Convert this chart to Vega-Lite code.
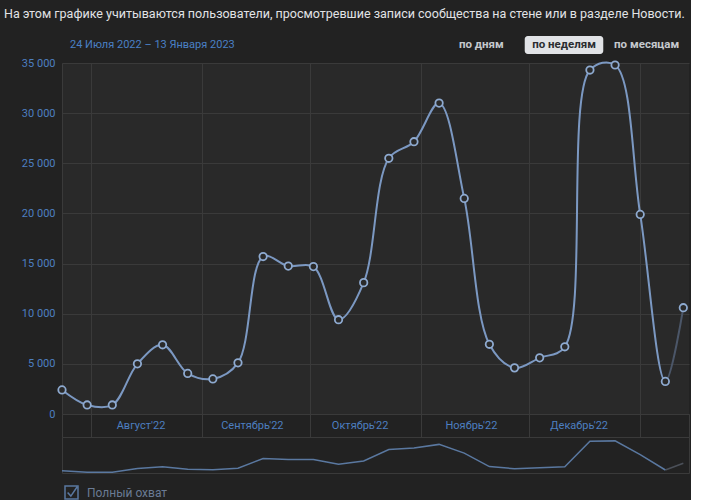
{
  "$schema": "https://vega.github.io/schema/vega-lite/v6.json",
  "background": "#222222",
  "padding": {"left": 4, "top": 7, "right": 0, "bottom": 0},
  "bounds": "flush",
  "title": {
    "text": "На этом графике учитываются пользователи, просмотревшие записи сообщества на стене или в разделе Новости.",
    "anchor": "start",
    "fontSize": 12.5,
    "fontWeight": "normal",
    "color": "#e1e3e6",
    "font": "Roboto",
    "baseline": "top",
    "offset": 16
  },
  "config": {
    "font": "Roboto",
    "view": {"stroke": null}
  },
  "datasets": {
    "weeks": [
      {"week": "2022-07-24T00:00:00", "reach": 2400},
      {"week": "2022-07-31T00:00:00", "reach": 900},
      {"week": "2022-08-07T00:00:00", "reach": 900},
      {"week": "2022-08-14T00:00:00", "reach": 5000},
      {"week": "2022-08-21T00:00:00", "reach": 6900},
      {"week": "2022-08-28T00:00:00", "reach": 4050},
      {"week": "2022-09-04T00:00:00", "reach": 3500},
      {"week": "2022-09-11T00:00:00", "reach": 5100},
      {"week": "2022-09-18T00:00:00", "reach": 15700},
      {"week": "2022-09-25T00:00:00", "reach": 14750},
      {"week": "2022-10-02T00:00:00", "reach": 14700},
      {"week": "2022-10-09T00:00:00", "reach": 9400},
      {"week": "2022-10-16T00:00:00", "reach": 13100},
      {"week": "2022-10-23T00:00:00", "reach": 25500},
      {"week": "2022-10-30T00:00:00", "reach": 27150},
      {"week": "2022-11-06T00:00:00", "reach": 31000},
      {"week": "2022-11-13T00:00:00", "reach": 21500},
      {"week": "2022-11-20T00:00:00", "reach": 6950},
      {"week": "2022-11-27T00:00:00", "reach": 4600},
      {"week": "2022-12-04T00:00:00", "reach": 5600},
      {"week": "2022-12-11T00:00:00", "reach": 6700},
      {"week": "2022-12-18T00:00:00", "reach": 34300},
      {"week": "2022-12-25T00:00:00", "reach": 34800},
      {"week": "2023-01-01T00:00:00", "reach": 19900},
      {"week": "2023-01-08T00:00:00", "reach": 3250},
      {"week": "2023-01-13T00:00:00", "reach": 10600}
    ],
    "months": [
      {"mid": "2022-08-15T00:00:00", "label": "Август'22"},
      {"mid": "2022-09-15T00:00:00", "label": "Сентябрь'22"},
      {"mid": "2022-10-15T00:00:00", "label": "Октябрь'22"},
      {"mid": "2022-11-15T00:00:00", "label": "Ноябрь'22"},
      {"mid": "2022-12-15T00:00:00", "label": "Декабрь'22"}
    ],
    "buttons": [
      {"label": "по дням", "selected": false},
      {"label": "по неделям", "selected": true},
      {"label": "по месяцам", "selected": false}
    ]
  },
  "resolve": {"scale": {"color": "independent"}, "legend": {"color": "independent"}},
  "spacing": 0,
  "vconcat": [
    {
      "width": 627,
      "height": 27,
      "data": {"name": "buttons"},
      "encoding": {
        "x": {"field": "label", "type": "nominal", "sort": null, "scale": {"type": "band", "paddingInner": 0.05, "paddingOuter": 0.025, "range": [378, 626]}, "axis": null},
        "y": {"datum": "b", "type": "nominal", "scale": {"type": "band", "paddingInner": 0, "paddingOuter": 0.25, "align": 0}, "axis": null}
      },
      "layer": [
        {
          "mark": {"type": "rect", "cornerRadius": 3},
          "encoding": {
            "color": {"condition": {"test": "datum.selected", "value": "#e1e3e6"}, "value": "transparent"}
          }
        },
        {
          "mark": {"type": "text", "fontSize": 11.5, "fontWeight": "bold", "baseline": "middle"},
          "encoding": {
            "text": {"field": "label"},
            "color": {"condition": {"test": "datum.selected", "value": "#2b2d30"}, "value": "#c5c9ce"}
          }
        }
      ]
    },
    {
      "width": 627,
      "height": 351,
      "title": {
        "text": "24 Июля 2022 – 13 Января 2023",
        "anchor": "start",
        "frame": "group",
        "dx": 8,
        "fontSize": 11,
        "fontWeight": "normal",
        "color": "#4a80c5",
        "baseline": "bottom",
        "offset": -4
      },
      "view": {"fill": "#292929", "stroke": null},
      "data": {"name": "weeks"},
      "encoding": {
        "x": {
          "field": "week",
          "type": "temporal",
          "scale": {"domain": [{"year": 2022, "month": 7, "date": 24}, {"year": 2023, "month": 1, "date": 14, "hours": 14}], "nice": false},
          "axis": {
            "values": [{"year": 2022, "month": 8, "date": 1}, {"year": 2022, "month": 9, "date": 1}, {"year": 2022, "month": 10, "date": 1}, {"year": 2022, "month": 11, "date": 1}, {"year": 2022, "month": 12, "date": 1}, {"year": 2023, "month": 1, "date": 1}],
            "grid": true, "gridColor": "#3a3a3a", "labels": false, "ticks": false, "domain": false, "title": null
          }
        },
        "y": {
          "field": "reach",
          "type": "quantitative",
          "scale": {"domain": [0, 35000], "nice": false},
          "axis": {
            "values": [0, 5000, 10000, 15000, 20000, 25000, 30000, 35000],
            "labelExpr": "replace(format(datum.value, ','), ',', ' ')",
            "labelColor": "#4d7fc0",
            "labelFontSize": 11,
            "labelPadding": 7,
            "minExtent": 58,
            "ticks": false,
            "domain": true,
            "domainColor": "#3a3a3a",
            "grid": true,
            "gridColor": "#3a3a3a",
            "title": null
          }
        }
      },
      "layer": [
        {
          "mark": {
            "type": "line",
            "interpolate": "catmull-rom",
            "strokeWidth": 2,
            "color": {
              "gradient": "linear",
              "x1": 0, "x2": 1, "y1": 0, "y2": 0,
              "stops": [
                {"offset": 0, "color": "#7b98c2"},
                {"offset": 0.971, "color": "#7b98c2"},
                {"offset": 0.972, "color": "#4b5668"},
                {"offset": 1, "color": "#4b5668"}
              ]
            }
          }
        },
        {
          "mark": {"type": "point", "shape": "circle", "filled": true, "fill": "#2a2a2a", "stroke": "#8eaad0", "strokeWidth": 1.8, "size": 55, "opacity": 1}
        }
      ]
    },
    {
      "width": 627,
      "height": 23,
      "view": {"stroke": "#3a3a3a"},
      "data": {"name": "months"},
      "mark": {"type": "text", "fontSize": 11, "color": "#4d7fc0", "baseline": "middle"},
      "encoding": {
        "x": {
          "field": "mid",
          "type": "temporal",
          "scale": {"domain": [{"year": 2022, "month": 7, "date": 24}, {"year": 2023, "month": 1, "date": 14, "hours": 14}], "nice": false},
          "axis": {
            "values": [{"year": 2022, "month": 8, "date": 1}, {"year": 2022, "month": 9, "date": 1}, {"year": 2022, "month": 10, "date": 1}, {"year": 2022, "month": 11, "date": 1}, {"year": 2022, "month": 12, "date": 1}, {"year": 2023, "month": 1, "date": 1}],
            "grid": true, "gridColor": "#3a3a3a", "labels": false, "ticks": false, "domain": false, "title": null
          }
        },
        "text": {"field": "label"}
      }
    },
    {
      "width": 627,
      "height": 36,
      "view": {"stroke": "#3a3a3a"},
      "data": {"name": "weeks"},
      "encoding": {
        "x": {
          "field": "week",
          "type": "temporal",
          "scale": {"domain": [{"year": 2022, "month": 7, "date": 24}, {"year": 2023, "month": 1, "date": 14, "hours": 14}], "nice": false},
          "axis": null
        },
        "y": {"field": "reach", "type": "quantitative", "scale": {"domain": [0, 39000], "nice": false}, "axis": null}
      },
      "layer": [
        {
          "transform": [{"filter": {"field": "week", "gte": {"year": 2023, "month": 1, "date": 8}}}],
          "mark": {"type": "line", "color": "#4b5059", "strokeWidth": 1.5}
        },
        {
          "transform": [{"filter": {"field": "week", "lte": {"year": 2023, "month": 1, "date": 8}}}],
          "mark": {"type": "line", "strokeWidth": 1.5},
          "encoding": {
            "color": {
              "datum": "Полный охват",
              "type": "nominal",
              "scale": {"range": ["#5a78a0"]},
              "legend": {
                "title": null,
                "orient": "none",
                "legendX": 2,
                "legendY": 48,
                "padding": 0,
                "symbolType": "M-1,-1H1V1H-1Z M-0.6,0L-0.1,0.55L0.85,-0.85",
                "symbolSize": 169,
                "labelColor": "#6a7b94",
                "labelFontSize": 12,
                "labelOffset": 8,
                "labelFont": "Roboto",
                "encode": {
                  "symbols": {"update": {"stroke": {"value": "#7a97c2"}, "strokeWidth": {"value": 1.5}, "fill": {"value": "transparent"}, "opacity": {"value": 1}}}
                }
              }
            }
          }
        }
      ]
    }
  ]
}
